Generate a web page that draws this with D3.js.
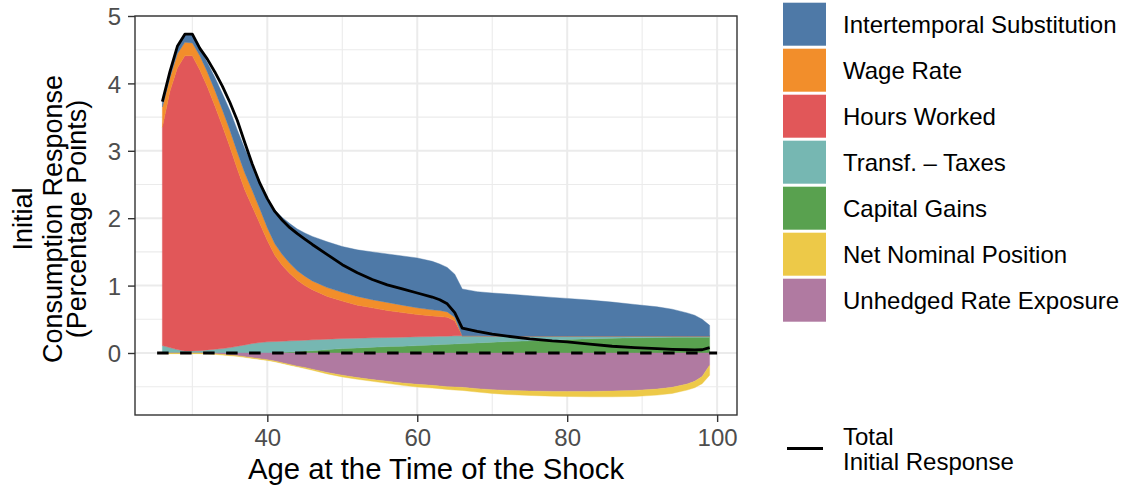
<!DOCTYPE html>
<html><head><meta charset="utf-8">
<script src="https://cdn.jsdelivr.net/npm/d3@7"></script>
<style>
body{margin:0;background:#fff}
svg{display:block}
text{font-family:"Liberation Sans",Arial,Helvetica,sans-serif}
</style>
</head><body>
<svg id="chart" width="1122" height="486"></svg>
<script>
// ---- data ----
const ages = [26,27,28,29,30,31,32,33,34,35,36,37,38,39,40,41,42,43,44,45,46,48,50,52,54,56,58,60,62,63,64,65,66,68,70,72,75,78,80,83,86,89,92,94,96,97,98,99];
const intertemporal = [.07,.07,.09,.11,.12,.10,.14,.19,.24,.29,.33,.36,.38,.40,.43,.50,.55,.59,.62,.64,.66,.68,.68,.69,.71,.72,.73,.74,.72,.69,.66,.64,.695,.655,.64,.625,.60,.575,.56,.535,.505,.47,.435,.40,.345,.31,.25,.16];
const wageRate = [.30,.20,.21,.20,.19,.21,.22,.23,.24,.25,.25,.25,.24,.22,.19,.17,.16,.15,.14,.14,.13,.13,.13,.13,.12,.12,.11,.10,.09,.09,.08,.05,0,0,0,0,0,0,0,0,0,0,0,0,0,0,0,0];
const hoursWorked = [3.24,3.80,4.18,4.38,4.38,4.165,3.905,3.615,3.305,2.98,2.63,2.30,2.03,1.765,1.505,1.28,1.125,1.00,.895,.81,.745,.635,.555,.49,.445,.40,.365,.33,.305,.29,.28,.225,0,0,0,0,0,0,0,0,0,0,0,0,0,0,0,0];
const transfTaxes = [.11,.08,.05,.03,.03,.035,.045,.055,.065,.08,.10,.12,.14,.155,.165,.165,.165,.165,.165,.16,.16,.155,.15,.145,.14,.135,.135,.13,.125,.125,.12,.12,.115,.105,.09,.08,.07,.06,.05,.04,.03,.025,.02,.015,.015,.015,.015,.015];
const capitalGains = [0,0,0,0,0,0,0,0,0,0,0,0,0,0,0,.005,.01,.015,.02,.03,.035,.05,.065,.075,.085,.095,.10,.11,.12,.125,.13,.135,.14,.15,.16,.17,.18,.19,.20,.21,.22,.225,.23,.235,.235,.235,.235,.235];
const netNominal = [-.01,-.01,-.01,-.01,-.01,-.01,-.01,-.01,-.01,-.01,-.01,-.01,-.01,-.01,-.01,-.01,-.01,-.01,-.01,-.015,-.015,-.02,-.025,-.025,-.025,-.03,-.035,-.04,-.04,-.04,-.04,-.045,-.045,-.05,-.055,-.06,-.065,-.07,-.075,-.08,-.085,-.09,-.09,-.09,-.09,-.095,-.105,-.15];
const unhedged = [0,0,0,0,0,0,-.005,-.01,-.02,-.03,-.04,-.055,-.07,-.085,-.10,-.12,-.145,-.17,-.195,-.215,-.24,-.29,-.33,-.365,-.395,-.42,-.445,-.465,-.48,-.49,-.50,-.505,-.51,-.53,-.545,-.555,-.565,-.57,-.57,-.57,-.565,-.555,-.535,-.51,-.46,-.42,-.35,-.18];
const totalResponse = [3.73,4.17,4.55,4.73,4.73,4.52,4.36,4.17,3.96,3.72,3.45,3.12,2.80,2.52,2.29,2.10,1.97,1.86,1.77,1.69,1.61,1.46,1.31,1.19,1.09,1.01,.95,.89,.83,.79,.73,.60,.37,.32,.28,.25,.21,.18,.165,.13,.10,.08,.065,.055,.048,.045,.048,.08];

const xTicks = [40,60,80,100];
const xMinor = [30,50,70,90];
const yTicks = [0,1,2,3,4,5];
const yMinor = [-0.5,0.5,1.5,2.5,3.5,4.5];
const seriesNames = ["Intertemporal Substitution","Wage Rate","Hours Worked","Transf. \u2013 Taxes","Capital Gains","Net Nominal Position","Unhedged Rate Exposure"];
const seriesColors = ["#4E79A7","#F28E2B","#E15759","#76B7B2","#59A14F","#EDC948","#B07AA1"];
const totalLabel = ["Total","Initial Response"];
const xTitle = "Age at the Time of the Shock";
const yTitle = ["Initial","Consumption Response","(Percentage Points)"];

// ---- build table ----
const valuesByName = {
  "Intertemporal Substitution": intertemporal,
  "Wage Rate": wageRate,
  "Hours Worked": hoursWorked,
  "Transf. \u2013 Taxes": transfTaxes,
  "Capital Gains": capitalGains,
  "Net Nominal Position": netNominal,
  "Unhedged Rate Exposure": unhedged
};
const rows = ages.map((a,i)=>{
  const r = {age:a, total: totalResponse[i]};
  seriesNames.forEach(n=> r[n] = valuesByName[n][i]);
  return r;
});
const colorOf = d3.scaleOrdinal().domain(seriesNames).range(seriesColors);

// positive stack: bottom -> top ; negative stack: nearest zero first
const posKeys = ["Capital Gains","Transf. \u2013 Taxes","Hours Worked","Wage Rate","Intertemporal Substitution"];
const negKeys = ["Unhedged Rate Exposure","Net Nominal Position"];
const posStack = d3.stack().keys(posKeys)(rows);
const negStack = d3.stack().keys(negKeys)(rows);

// ---- layout ----
const svg = d3.select("#chart");
const P = {left:135, right:737, top:16, bottom:415};
const x = d3.scaleLinear().domain([22.35,102.65]).range([P.left,P.right]);
const y = d3.scaleLinear().domain([-0.92,5.0]).range([P.bottom,P.top]);

const grid = svg.append("g");
grid.selectAll(".ymin").data(yMinor).join("line")
  .attr("x1",P.left).attr("x2",P.right).attr("y1",d=>y(d)).attr("y2",d=>y(d))
  .attr("stroke","#EBEBEB").attr("stroke-width",1.1);
grid.selectAll(".xmin").data(xMinor).join("line")
  .attr("y1",P.top).attr("y2",P.bottom).attr("x1",d=>x(d)).attr("x2",d=>x(d))
  .attr("stroke","#EBEBEB").attr("stroke-width",1.1);
grid.selectAll(".ymaj").data(yTicks).join("line")
  .attr("x1",P.left).attr("x2",P.right).attr("y1",d=>y(d)).attr("y2",d=>y(d))
  .attr("stroke","#EBEBEB").attr("stroke-width",2);
grid.selectAll(".xmaj").data(xTicks).join("line")
  .attr("y1",P.top).attr("y2",P.bottom).attr("x1",d=>x(d)).attr("x2",d=>x(d))
  .attr("stroke","#EBEBEB").attr("stroke-width",2);

const area = d3.area()
  .x(d=>x(d.data.age))
  .y0(d=>y(d[0]))
  .y1(d=>y(d[1]));

svg.append("g").selectAll("path").data(posStack.concat(negStack)).join("path")
  .attr("d",area)
  .attr("fill",s=>colorOf(s.key))
  .attr("stroke",s=>colorOf(s.key))
  .attr("stroke-width",0.4);

// zero reference line
svg.append("line")
  .attr("x1",x(25.3)).attr("x2",x(100)).attr("y1",y(0)).attr("y2",y(0))
  .attr("stroke","#000").attr("stroke-width",3).attr("stroke-dasharray","11.5,11.5");

// total line
svg.append("path").datum(rows)
  .attr("d",d3.line().x(d=>x(d.age)).y(d=>y(d.total)))
  .attr("fill","none").attr("stroke","#000").attr("stroke-width",2.8)
  .attr("stroke-linejoin","round");

// panel border
svg.append("rect").attr("x",P.left).attr("y",P.top)
  .attr("width",P.right-P.left).attr("height",P.bottom-P.top)
  .attr("fill","none").attr("stroke","#333333").attr("stroke-width",1.4);

// axes
const xAxis = svg.append("g").attr("transform",`translate(0,${P.bottom})`)
  .call(d3.axisBottom(x).tickValues(xTicks).tickFormat(d3.format("d")).tickSize(7).tickPadding(7));
const yAxis = svg.append("g").attr("transform",`translate(${P.left},0)`)
  .call(d3.axisLeft(y).tickValues(yTicks).tickFormat(d3.format("d")).tickSize(7).tickPadding(7));
[xAxis,yAxis].forEach(g=>{
  g.select(".domain").remove();
  g.selectAll(".tick line").attr("stroke","#333333").attr("stroke-width",1.4);
  g.selectAll(".tick text").attr("fill","#4D4D4D").attr("font-size",24)
    .attr("font-family",'"Liberation Sans",Arial,sans-serif');
});
xAxis.selectAll(".tick text").attr("dy","0.71em");
yAxis.selectAll(".tick text").attr("dy","0.36em");

// axis titles
svg.append("text").attr("x",(P.left+P.right)/2).attr("y",479)
  .attr("text-anchor","middle").attr("font-size",29.3).attr("fill","#000").text(xTitle);
const yt = svg.append("g").attr("transform","translate(0,219) rotate(-90)");
const ytBase = [32,62,86];
yTitle.forEach((t,i)=>{
  yt.append("text").attr("x",0).attr("y",ytBase[i]).attr("text-anchor","middle")
    .attr("font-size",27).attr("fill","#000").text(t);
});

// legend
const leg = svg.append("g");
seriesNames.forEach((n,i)=>{
  leg.append("rect").attr("x",783).attr("y",2.7+46*i).attr("width",43).attr("height",43)
    .attr("fill",colorOf(n));
  leg.append("text").attr("x",843).attr("y",2.7+46*i+21.5+8.5)
    .attr("font-size",24).attr("fill","#000").text(n);
});
leg.append("line").attr("x1",787).attr("x2",823).attr("y1",448.5).attr("y2",448.5)
  .attr("stroke","#000").attr("stroke-width",2.8);
totalLabel.forEach((t,i)=>{
  leg.append("text").attr("x",843).attr("y",445+25*i)
    .attr("font-size",24).attr("fill","#000").text(t);
});
</script>
</body></html>
